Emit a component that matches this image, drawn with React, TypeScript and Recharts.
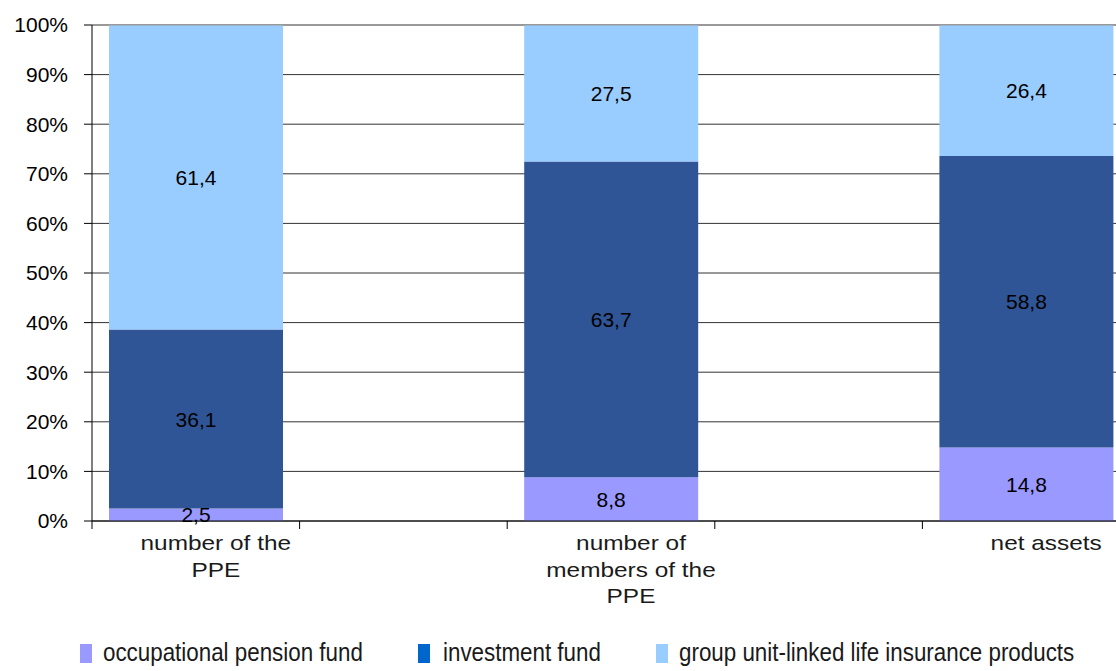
import { BarChart, Bar, XAxis, YAxis, CartesianGrid, LabelList, ReferenceLine } from "recharts";

const categories = ["number of the\nPPE", "", "number of\nmembers of the\nPPE", "", "net assets"];
const occupational = [2.5, null, 8.8, null, 14.8];
const investment = [36.1, null, 63.7, null, 58.8];
const groupUnitLinked = [61.4, null, 27.5, null, 26.4];
const yTicks = [0, 10, 20, 30, 40, 50, 60, 70, 80, 90, 100];

const seriesNames = ["occupational pension fund", "investment fund", "group unit-linked life insurance products"];
const barColors = ["#9999FF", "#2F5597", "#99CCFF"];
const legendColors = ["#9999FF", "#0066CC", "#99CCFF"];

const data = categories.map((name, i) => ({
  name,
  occupational: occupational[i],
  investment: investment[i],
  group: groupUnitLinked[i],
}));

const CHART_W = 1140;
const CHART_H = 671;
const Y_AXIS_W = 92;
const MARGIN_RIGHT = 10;
const BAND = (CHART_W - MARGIN_RIGHT - Y_AXIS_W) / categories.length;
const FONT = "'Liberation Sans', Arial, sans-serif";

const fmt = (v: any) => (v == null ? "" : Number(v).toFixed(1).replace(".", ","));

// category label, stretched a bit wider like the original
function CategoryTick(props: any) {
  const { x, y, payload } = props;
  const lines = String(payload.value ?? "").split("\n").filter((l) => l.length > 0);
  const left = x - BAND / 2;
  return (
    <g>
      <line x1={left} x2={left} y1={y} y2={y + 8} stroke="#000" />
      {lines.map((l, i) => (
        <text
          key={i}
          transform={`translate(${x + 20},${y + 29 + i * 26.5}) scale(1.22,1)`}
          textAnchor="middle"
          fill="#1a1a1a"
          fontSize={20}
          fontFamily={FONT}
        >
          {l}
        </text>
      ))}
    </g>
  );
}

export default function App() {
  const legendX = [[80, 103], [418, 443], [656, 679]];
  return (
    <div style={{ position: "absolute", left: 0, top: 0, width: 1116, height: 671, overflow: "hidden", background: "#fff" }}>
      <BarChart
        width={CHART_W}
        height={CHART_H}
        data={data}
        barSize={174}
        margin={{ top: 25, right: MARGIN_RIGHT, left: 0, bottom: 0 }}
      >
        <CartesianGrid vertical={false} stroke="#333" />
        <XAxis
          dataKey="name"
          height={150}
          axisLine={{ stroke: "#000" }}
          tickLine={false}
          tickSize={0}
          tickMargin={0}
          interval={0}
          tick={<CategoryTick />}
        />
        <YAxis
          width={Y_AXIS_W}
          domain={[0, 100]}
          ticks={yTicks}
          tickFormatter={(v) => `${v}%`}
          tickSize={8}
          tickMargin={16}
          axisLine={{ stroke: "#000" }}
          tickLine={{ stroke: "#000" }}
          tick={{ fill: "#000", fontSize: 21, fontFamily: FONT }}
        />
        <ReferenceLine y={100} stroke="#999" />
        <Bar dataKey="occupational" stackId="a" fill={barColors[0]} isAnimationActive={false}>
          <LabelList dataKey="occupational" position="center" formatter={fmt} fill="#000" fontSize={21} fontFamily={FONT} />
        </Bar>
        <Bar dataKey="investment" stackId="a" fill={barColors[1]} isAnimationActive={false}>
          <LabelList dataKey="investment" position="center" formatter={fmt} fill="#000" fontSize={21} fontFamily={FONT} />
        </Bar>
        <Bar dataKey="group" stackId="a" fill={barColors[2]} isAnimationActive={false}>
          <LabelList dataKey="group" position="center" formatter={fmt} fill="#000" fontSize={21} fontFamily={FONT} />
        </Bar>
      </BarChart>
      {seriesNames.map((n, i) => (
        <div key={n}>
          <div style={{ position: "absolute", left: legendX[i][0], top: 644, width: 12, height: 19, background: legendColors[i] }} />
          <div
            style={{
              position: "absolute",
              left: legendX[i][1],
              top: 636,
              fontFamily: FONT,
              fontSize: 26,
              color: "#1a1a1a",
              whiteSpace: "nowrap",
              lineHeight: "32px",
              transform: "scaleX(0.86)",
              transformOrigin: "left center",
            }}
          >
            {n}
          </div>
        </div>
      ))}
    </div>
  );
}
